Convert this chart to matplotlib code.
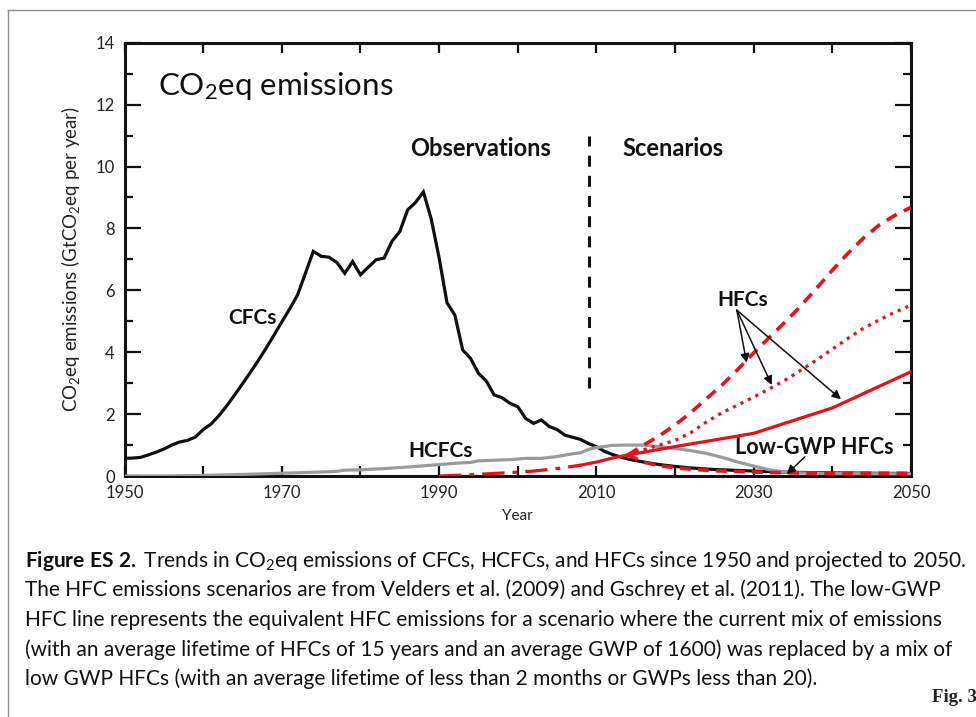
import matplotlib
matplotlib.use("Agg")
import matplotlib.pyplot as plt
from matplotlib.lines import Line2D
from matplotlib.ticker import MultipleLocator

plt.rcParams['font.family'] = ['Lato', 'DejaVu Sans']
plt.rcParams['mathtext.fontset'] = 'custom'
plt.rcParams['mathtext.rm'] = 'Lato'
plt.rcParams['mathtext.it'] = 'Lato:italic'
plt.rcParams['mathtext.bf'] = 'Lato:bold'
plt.rcParams['mathtext.default'] = 'regular'

# ---------------- data ----------------
cfc_years = [1950, 1951, 1952, 1953, 1954, 1955, 1956, 1957, 1958, 1959,
             1960, 1961, 1962, 1963, 1964, 1965, 1966, 1967, 1968, 1969,
             1970, 1971, 1972, 1973, 1974, 1975, 1976, 1977, 1978, 1979,
             1980, 1981, 1982, 1983, 1984, 1985, 1986, 1987, 1988, 1989,
             1990, 1991, 1992, 1993, 1994, 1995, 1996, 1997, 1998, 1999,
             2000, 2001, 2002, 2003, 2004, 2005, 2006, 2007, 2008, 2009,
             2010, 2011, 2012, 2013, 2014, 2016, 2018, 2020, 2022, 2025,
             2030, 2035, 2040, 2050]
cfc_vals = [0.57, 0.58, 0.60, 0.68, 0.77, 0.87, 1.00, 1.10, 1.15, 1.26,
            1.50, 1.68, 1.95, 2.27, 2.62, 2.98, 3.35, 3.73, 4.13, 4.55,
            4.98, 5.40, 5.85, 6.55, 7.26, 7.10, 7.07, 6.90, 6.55, 6.93,
            6.50, 6.75, 6.99, 7.04, 7.58, 7.90, 8.60, 8.84, 9.18, 8.30,
            7.05, 5.60, 5.20, 4.07, 3.80, 3.32, 3.07, 2.62, 2.53, 2.35,
            2.24, 1.86, 1.70, 1.81, 1.60, 1.50, 1.32, 1.25, 1.18, 1.05,
            0.95, 0.80, 0.70, 0.62, 0.55, 0.45, 0.37, 0.31, 0.26, 0.21,
            0.16, 0.12, 0.10, 0.08]

hcfc_years = [1950, 1955, 1960, 1965, 1970, 1975, 1977, 1978, 1980, 1983,
              1986, 1988, 1990, 1992, 1994, 1995, 1997, 1999, 2001, 2003,
              2005, 2007, 2008, 2009, 2010, 2012, 2014, 2016, 2018, 2020,
              2022, 2024, 2026, 2028, 2030, 2032, 2034, 2036, 2040, 2050]
hcfc_vals = [0.00, 0.00, 0.02, 0.05, 0.09, 0.13, 0.15, 0.19, 0.20, 0.24,
             0.29, 0.33, 0.37, 0.41, 0.44, 0.49, 0.51, 0.53, 0.57, 0.57,
             0.63, 0.72, 0.75, 0.86, 0.92, 0.99, 1.00, 1.00, 0.95, 0.89,
             0.82, 0.73, 0.60, 0.45, 0.32, 0.20, 0.13, 0.10, 0.08, 0.07]

hfc_obs_years = [1990, 1993, 1996, 1999, 2002, 2005, 2008]
hfc_obs_vals = [0.00, 0.03, 0.07, 0.11, 0.16, 0.24, 0.35]

hfc_base_years = [2008, 2010, 2012, 2014]
hfc_base_vals = [0.35, 0.45, 0.58, 0.68]

hfc_high_years = [2014, 2016, 2018, 2020, 2022, 2024, 2026, 2028, 2030, 2032,
                  2034, 2036, 2038, 2040, 2042, 2044, 2046, 2048, 2050]
hfc_high_vals = [0.68, 1.00, 1.30, 1.65, 2.05, 2.50, 2.95, 3.45, 3.98, 4.48,
                 4.98, 5.50, 6.07, 6.65, 7.20, 7.70, 8.12, 8.43, 8.68]

hfc_mid_years = [2014, 2016, 2018, 2020, 2022, 2024, 2026, 2028, 2030, 2032,
                 2034, 2036, 2038, 2040, 2042, 2044, 2046, 2048, 2050]
hfc_mid_vals = [0.68, 0.85, 1.00, 1.15, 1.40, 1.75, 2.05, 2.30, 2.55, 2.82,
                3.10, 3.42, 3.75, 4.10, 4.45, 4.78, 5.05, 5.30, 5.52]

hfc_low_years = [2014, 2020, 2030, 2040, 2050]
hfc_low_vals = [0.68, 0.95, 1.38, 2.20, 3.37]

lowgwp_years = [2014, 2016, 2018, 2020, 2022, 2025, 2030, 2035, 2040, 2050]
lowgwp_vals = [0.68, 0.45, 0.33, 0.27, 0.22, 0.17, 0.13, 0.10, 0.09, 0.09]

divider_year = 2009
divider_span = (2.85, 11.0)

x_ticks = [1950, 1970, 1990, 2010, 2030, 2050]
y_ticks = [0, 2, 4, 6, 8, 10, 12, 14]

caption_lines = [
    r"$\bf{Figure\ ES\ 2.}$ Trends in CO$_2$eq emissions of CFCs, HCFCs, and HFCs since 1950 and projected to 2050.",
    "The HFC emissions scenarios are from Velders et al. (2009) and Gschrey et al. (2011). The low-GWP",
    "HFC line represents the equivalent HFC emissions for a scenario where the current mix of emissions",
    "(with an average lifetime of HFCs of 15 years and an average GWP of 1600) was replaced by a mix of",
    "low GWP HFCs (with an average lifetime of less than 2 months or GWPs less than 20).",
]

RED = '#e8101a'
GRAY = '#9a9a9a'
BLACK = '#111111'

# ---------------- figure ----------------
fig = plt.figure(figsize=(9.76, 7.17), dpi=100)
ax = fig.add_axes([0.1276, 0.3361, 0.8058, 0.6043])

ax.plot(cfc_years, cfc_vals, color=BLACK, lw=2.3, solid_joinstyle='miter', zorder=3)
ax.plot(hcfc_years, hcfc_vals, color=GRAY, lw=2.3, zorder=4)
ax.plot(hfc_obs_years, hfc_obs_vals, color=RED, lw=2.3, dashes=(7, 2.5, 1.5, 2.5), zorder=5)
ax.plot(hfc_base_years, hfc_base_vals, color=RED, lw=2.3, zorder=5)
ax.plot(hfc_high_years, hfc_high_vals, color=RED, lw=2.6, dashes=(3.2, 2.2), zorder=5)
ax.plot(hfc_mid_years, hfc_mid_vals, color=RED, lw=2.3, dashes=(1.0, 1.6), zorder=5)
ax.plot(hfc_low_years, hfc_low_vals, color=RED, lw=2.3, zorder=5)
ax.plot(lowgwp_years, lowgwp_vals, color=RED, lw=2.6, dashes=(3.0, 2.0), zorder=6)

ax.plot([divider_year, divider_year], divider_span, color=BLACK, lw=2.2,
        dashes=(3.6, 3.0), zorder=3)

ax.set_xlim(1950, 2050)
ax.set_ylim(0, 14)
ax.set_xticks(x_ticks)
ax.xaxis.set_minor_locator(MultipleLocator(10))
ax.set_yticks(y_ticks)
ax.yaxis.set_minor_locator(MultipleLocator(1))

for s in ax.spines.values():
    s.set_linewidth(2.2)
    s.set_color(BLACK)

ax.tick_params(axis='both', which='both', direction='in', top=True, right=True,
               color=BLACK, width=1.6, labelsize=12, labelcolor='#222222')
ax.tick_params(axis='y', which='major', length=11.5, pad=7)
ax.tick_params(axis='y', which='minor', length=5.8)
ax.tick_params(axis='x', which='both', length=7, pad=6.5)

ax.set_xlabel("Year", fontsize=11, color='#222222', labelpad=6)
ax.set_ylabel("CO$_2$eq emissions (GtCO$_2$eq per year)", fontsize=13.5,
              color='#222222', labelpad=10)

# annotations
ax.text(1954.3, 12.3, "CO$_2$eq emissions", fontsize=22.5, color=BLACK,
        ha='left', va='baseline')
ax.text(1995.3, 10.35, "Observations", fontsize=17, fontweight='bold',
        color=BLACK, ha='center', va='baseline')
ax.text(2019.8, 10.35, "Scenarios", fontsize=17, fontweight='bold',
        color=BLACK, ha='center', va='baseline')
ax.text(1966.2, 4.9, "CFCs", fontsize=15, fontweight='bold', color=BLACK,
        ha='center', va='baseline')
ax.text(1990.2, 0.6, "HCFCs", fontsize=15, fontweight='bold', color=BLACK,
        ha='center', va='baseline')
ax.text(2028.6, 5.49, "HFCs", fontsize=15, fontweight='bold', color=BLACK,
        ha='center', va='baseline')
ax.text(2037.7, 0.71, "Low-GWP HFCs", fontsize=15.5, fontweight='bold',
        color=BLACK, ha='center', va='baseline')

arrow_kw = dict(arrowstyle='-|>', color=BLACK, lw=1.1, mutation_scale=13,
                shrinkA=0, shrinkB=0)
hfc_arrow_start = (2027.85, 5.36)
for end in [(2029.1, 3.66), (2032.3, 2.94), (2041.1, 2.48)]:
    ax.annotate('', xy=end, xytext=hfc_arrow_start, arrowprops=arrow_kw, zorder=8)
ax.annotate('', xy=(2034.2, 0.06), xytext=(2036.5, 0.62), arrowprops=arrow_kw,
            zorder=8)

# frame lines of the page
fig.add_artist(Line2D([0.0085, 1.0], [0.9854, 0.9854], color='#8c8c8c', lw=1.0))
fig.add_artist(Line2D([0.0085, 0.0085], [0.0, 0.9854], color='#8c8c8c', lw=1.0))

# caption
base_y = [567, 596.5, 626, 655.5, 685]
for line, yb in zip(caption_lines, base_y):
    fig.text(25 / 976, 1 - yb / 717, line, fontsize=15, color=BLACK,
             ha='left', va='baseline')

fig.text(932 / 976, 1 - 702 / 717, "Fig. 3", fontsize=13.5,
         family='Liberation Serif', fontweight='bold', color='#222222',
         ha='left', va='baseline')

fig.savefig("out.png", dpi=100)
